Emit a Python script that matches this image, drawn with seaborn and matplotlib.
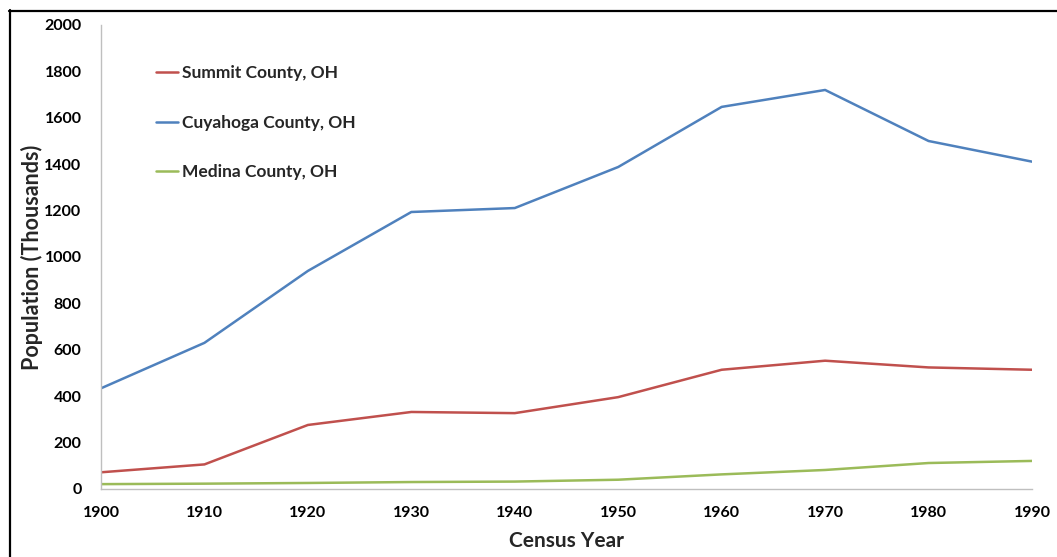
import matplotlib
matplotlib.use("Agg")
import matplotlib.pyplot as plt
from matplotlib.lines import Line2D
import pandas as pd
import seaborn as sns

# Census population by decade, in thousands
years = [1900, 1910, 1920, 1930, 1940, 1950, 1960, 1970, 1980, 1990]
summit = [72, 106, 276, 332, 327, 396, 514, 553, 524, 514]
cuyahoga = [434, 630, 940, 1194, 1211, 1388, 1647, 1720, 1500, 1411]
medina = [21, 23, 26, 30, 32, 40, 63, 82, 112, 121]

series_names = ["Summit County, OH", "Cuyahoga County, OH", "Medina County, OH"]
series_colors = ["#C0504D", "#4F81BD", "#9BBB59"]

df = pd.concat([
    pd.DataFrame({"year": years, "pop": vals, "county": name})
    for name, vals in zip(series_names, [summit, cuyahoga, medina])
])

sns.set_style("white")
plt.rcParams["font.family"] = ["Lato", "DejaVu Sans"]
plt.rcParams["font.weight"] = "bold"

W, H = 1057, 557
fig = plt.figure(figsize=(W / 100, H / 100), dpi=100)
ax = fig.add_axes([101 / W, 1 - 489 / H, (1032 - 101) / W, (489 - 25) / H])

sns.lineplot(data=df, x="year", y="pop", hue="county", hue_order=series_names,
             palette=series_colors, linewidth=1.8, ax=ax)

ax.set_xlim(1900, 1990)
ax.set_ylim(0, 2000)
ax.set_xticks(years)
ax.set_yticks(range(0, 2001, 200))
ax.tick_params(axis="both", colors="#BFBFBF", labelcolor="black", labelsize=11.5,
               length=6, width=1)
ax.tick_params(axis="x", pad=6)
ax.tick_params(axis="y", pad=8)
for lbl in ax.get_xticklabels() + ax.get_yticklabels():
    lbl.set_fontweight("bold")

for side in ["top", "right"]:
    ax.spines[side].set_visible(False)
for side in ["left", "bottom"]:
    ax.spines[side].set_color("#BFBFBF")
    ax.spines[side].set_linewidth(1)

ax.set_xlabel("Census Year", fontsize=15, fontweight="bold", labelpad=8)
ax.set_ylabel("Population (Thousands)", fontsize=15.5, fontweight="bold")
ax.yaxis.set_label_coords(-0.062, 0.5)

leg = ax.legend(loc="upper left", bbox_to_anchor=(0.042, 0.948), frameon=False,
                handlelength=1.27, handletextpad=0.25, labelspacing=1.95,
                prop={"weight": "bold", "size": 12.5})
for h in leg.get_lines():
    h.set_linewidth(1.8)

# Frame lines along the top and left edges of the figure
fig.add_artist(Line2D([9 / W, 1], [1 - 10.5 / H, 1 - 10.5 / H], color="black",
                      linewidth=1.6, transform=fig.transFigure))
fig.add_artist(Line2D([9.5 / W, 9.5 / W], [0, 1 - 10 / H], color="black",
                      linewidth=1.6, transform=fig.transFigure))

fig.savefig("out.png", dpi=100)
